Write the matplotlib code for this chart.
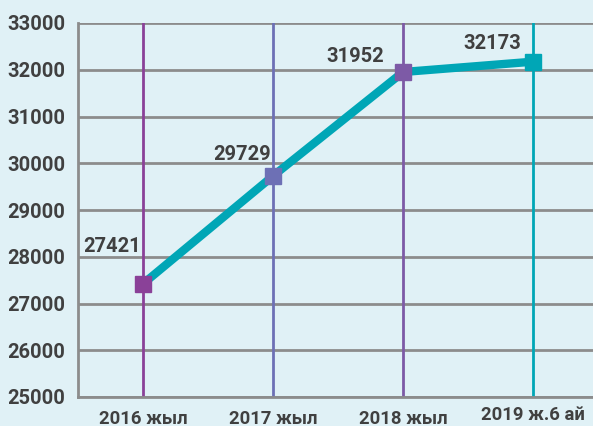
import matplotlib.pyplot as plt

plt.rcParams['font.family'] = ['Roboto', 'DejaVu Sans']

categories = ['2016 жыл', '2017 жыл', '2018 жыл', '2019 ж.6 ай']
values = [27421, 29729, 31952, 32173]
point_colors = ['#8a4198', '#6d70b5', '#7d5aa6', '#00a6b6']
yticks = [25000, 26000, 27000, 28000, 29000, 30000, 31000, 32000, 33000]

bg = '#e0f1f6'
text_color = '#404040'

fig = plt.figure(figsize=(5.93, 4.26), dpi=100, facecolor=bg)
ax = fig.add_axes([78 / 593, 1 - 397 / 426, 1 - 78 / 593, (397 - 23) / 426])
ax.set_facecolor(bg)

x = list(range(len(categories)))

# horizontal grid
for y in yticks:
    ax.axhline(y, color='#8c8c8c', lw=2, zorder=1)
# coloured verticals per category
for xi, c in zip(x, point_colors):
    ax.axvline(xi, color=c, lw=2, zorder=2)

ax.plot(x, values, color='#00a6b6', lw=6, zorder=3, solid_capstyle='butt')
for xi, v, c in zip(x, values, point_colors):
    ax.plot(xi, v, marker='s', ms=11.5, color=c, mec=c, zorder=4)

# label offsets in pixels from each point
offsets = [(-31, 37), (-31, 21), (-48, 15), (-41, 18)]
for xi, v, off in zip(x, values, offsets):
    ax.annotate(str(v), (xi, v), xytext=off, textcoords='offset pixels',
                ha='center', va='center', fontsize=14.5, fontweight='bold',
                color=text_color, zorder=5)

ax.set_xlim(-0.5, 3.46)
ax.set_ylim(25000, 33000)
ax.set_yticks(yticks)
ax.set_yticklabels([str(t) for t in yticks], fontsize=14.5, fontweight='bold', color=text_color)
ax.set_xticks(x)
ax.set_xticklabels(categories, fontsize=13.3, fontweight='bold', color=text_color)
ax.tick_params(axis='both', length=0)
ax.tick_params(axis='y', pad=9)
ax.tick_params(axis='x', pad=9)
labs = ax.get_xticklabels()
labs[3].set_y(0.01)

for s in ['top', 'right']:
    ax.spines[s].set_visible(False)
ax.spines['left'].set_color('#8c8c8c')
ax.spines['left'].set_linewidth(2)
ax.spines['bottom'].set_color('#8c8c8c')
ax.spines['bottom'].set_linewidth(2)

fig.savefig('out.png', dpi=100, facecolor=bg)
